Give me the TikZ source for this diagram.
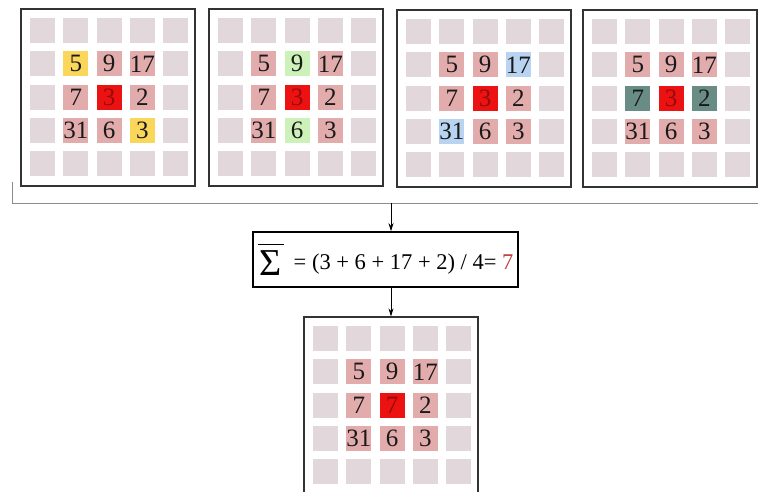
\documentclass[tikz,border=0pt]{standalone}
\usepackage{fontspec}
\setmainfont{Liberation Serif}
\usepackage{tikz}
\usetikzlibrary{positioning,arrows.meta}
\definecolor{cellgray}{RGB}{226,216,220}
\definecolor{cellpink}{RGB}{226,172,172}
\definecolor{cellred}{RGB}{236,18,18}
\definecolor{cellyellow}{RGB}{250,214,90}
\definecolor{cellgreen}{RGB}{205,242,185}
\definecolor{cellblue}{RGB}{185,212,240}
\definecolor{cellteal}{RGB}{105,140,132}
\definecolor{centertext}{RGB}{150,10,10}
\definecolor{resultred}{RGB}{190,60,60}

\tikzset{
  panelbox/.style={draw=black!80,line width=1.2pt,minimum width=174pt,minimum height=177pt,inner sep=0pt},
  cellnum/.style={text=black!90,font=\fontsize{25}{25}\selectfont,inner sep=0pt},
  bracketline/.style={draw=black!45,line width=0.9pt},
  formulabox/.style={draw=black,line width=1.6pt,minimum width=265pt,minimum height=55pt,inner sep=0pt,
    font=\fontsize{22.5}{22.5}\selectfont},
  flow/.style={-{Stealth[length=8pt,width=5pt]},line width=0.8pt}
}

% one 5x5 panel: name, left, top, centre value, highlights
\newcommand{\kernelpanel}[5]{%
  \node[panelbox] (#1) at ({#2+87},{#3+88.5}) {};
  \foreach \c in {0,...,4}
    \foreach \r in {0,...,4}
      \fill[cellgray] ({#2+9+\c*33.3},{#3+9+\r*33.3}) rectangle +(25,25);
  \foreach \c in {1,2,3}
    \foreach \r in {1,2,3}
      \fill[cellpink] ({#2+9+\c*33.3},{#3+9+\r*33.3}) rectangle +(25,25);
  \fill[cellred] ({#2+9+2*33.3},{#3+9+2*33.3}) rectangle +(25,25);
  \foreach \c/\r/\col in {#5}
    \fill[\col] ({#2+9+\c*33.3},{#3+9+\r*33.3}) rectangle +(25,25);
  \foreach \c/\r/\v in {1/1/5,2/1/9,3/1/17,1/2/7,3/2/2,1/3/31,2/3/6,3/3/3}
    \node[cellnum] at ({#2+21.5+\c*33.3},{#3+21.5+\r*33.3}) {\v};
  \node[cellnum,text=centertext] at ({#2+21.5+2*33.3},{#3+21.5+2*33.3}) {#4};
}
% overlined sigma
\newcommand{\barsigma}{\raisebox{-6pt}{\(\overline{\hbox{\rule{0pt}{29pt}\kern2pt\fontsize{38}{38}\selectfont Σ\kern2pt}}\)}}

\begin{document}
\begin{tikzpicture}[x=1pt,y=-1pt]
  \useasboundingbox[fill=white] (0,0) rectangle (758,491);

  % the four neighbour pairs
  \kernelpanel{pA}{21}{9}{3}{1/1/cellyellow,3/3/cellyellow}
  \kernelpanel{pB}{209}{9}{3}{2/1/cellgreen,2/3/cellgreen}
  \kernelpanel{pC}{397}{10}{3}{3/1/cellblue,1/3/cellblue}
  \kernelpanel{pD}{583}{10}{3}{1/2/cellteal,3/2/cellteal}

  % bracket under the panels
  \coordinate (brL) at (12,182);
  \coordinate (brC) at (12,203);
  \coordinate (brR) at (758,203);
  \coordinate (split) at (391,203);
  \draw[bracketline] (brL) -- (brC) -- (brR);

  % mean of the pairs
  \node[formulabox] (mean) at (385.5,259.5)
    {\barsigma\hspace{10pt}= (3 + 6 + 17 + 2) / 4= \textcolor{resultred}{7}};

  % result
  \kernelpanel{res}{304}{317}{7}{2/2/cellred}

  \draw[flow] (split) -- (split |- mean.north);
  \draw[flow] (res.north |- mean.south) -- (res.north);
\end{tikzpicture}
\end{document}
